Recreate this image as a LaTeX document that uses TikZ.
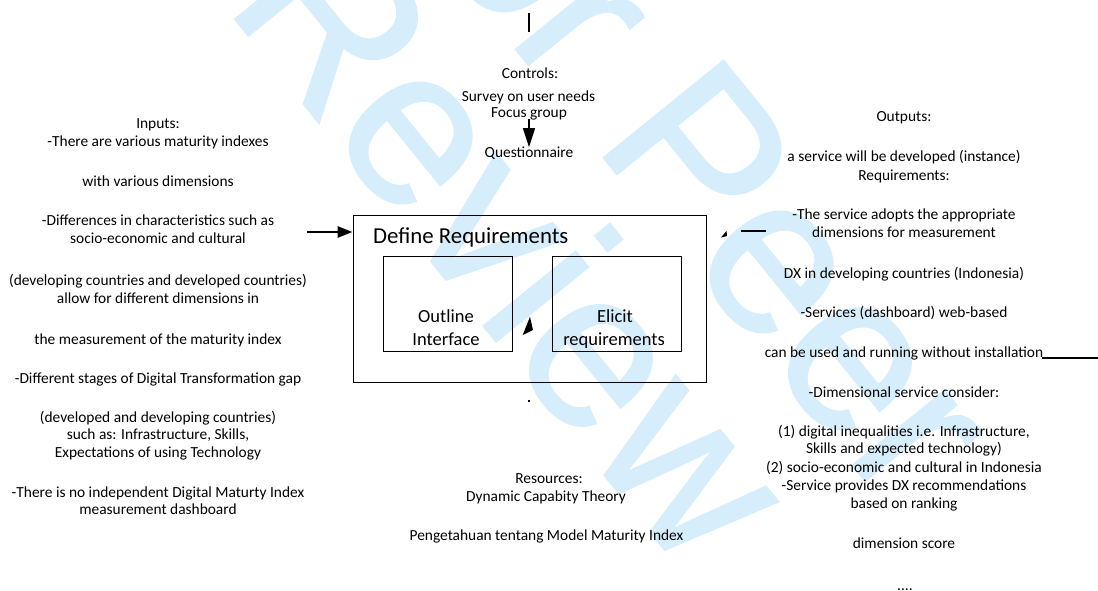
\documentclass[tikz,border=0pt]{standalone}
\usepackage{fontspec}
\setmainfont{Carlito}
\newfontfamily\wmfont[FakeBold=1]{Liberation Sans}
\usetikzlibrary{arrows.meta}
\definecolor{wmblue}{RGB}{214,238,251}

\begin{document}
\begin{tikzpicture}[x=1pt,y=-1pt,
  txt/.style={font=\fontsize{15.4}{18}\selectfont, inner sep=0, anchor=base},
  inner/.style={font=\fontsize{18.5}{23}\selectfont, inner sep=0, anchor=base},
  box/.style={draw, line width=0.9pt, inner sep=0},
  wmark/.style={font=\wmfont\fontsize{224}{224}\selectfont, text=wmblue, inner sep=0, rotate=-51},
  bigarrow/.style={line width=2.6pt, -{Triangle[length=15pt,width=11pt]}},
  ctrlarrow/.style={line width=1.3pt, -{Triangle[length=19pt,width=12pt]}},
  stub/.style={line width=2.8pt},
]
\useasboundingbox (0,0) rectangle (1098,591);

% watermark
\node[wmark] (wm1) at (675,125) {For Peer};
\node[wmark] (wm2) at (517,240) {Review};

% main activity box and its two sub-activities
\node[box, minimum width=353, minimum height=167] (main) at (529.5,298.5) {};
\node[anchor=base west, inner sep=0, font=\fontsize{22.8}{26}\selectfont] (title) at (373,243) {Define Requirements};
\node[box, minimum width=129, minimum height=95] (outline) at (447.5,303.5) {};
\node[box, minimum width=129, minimum height=95] (elicit) at (616.5,303.5) {};
\node[inner] (o1) at (446,322) {Outline};
\node[inner] (o2) at (446,345) {Interface};
\node[inner] (e1) at (615,322) {Elicit};
\node[inner] (e2) at (614,345) {requirements};

% inputs
\foreach \y/\t [count=\i] in {
  129/Inputs:,
  147/-There are various maturity indexes,
  186/with various dimensions,
  225/-Differences in characteristics such as,
  243/socio-economic and cultural,
  285/(developing countries and developed countries),
  303/allow for different dimensions in,
  344/the measurement of the maturity index,
  383/-Different stages of Digital Transformation gap,
  422/(developed and developing countries),
  439/{such as: Infrastructure, Skills,},
  457/Expectations of using Technology,
  497/-There is no independent Digital Maturty Index,
  514/measurement dashboard}
  \node[txt] (in\i) at (158,\y) {\t};

% controls
\node[txt] (c1) at (530,79) {Controls:};
\node[txt] (c2) at (528.5,102) {Survey on user needs};
\node[txt] (c3) at (529,118) {Focus group};
\node[txt] (q) at (529,158) {Questionnaire};

% outputs
\foreach \y/\t [count=\i] in {
  122/Outputs:,
  162/a service will be developed (instance),
  180/Requirements:,
  219/-The service adopts the appropriate,
  237/dimensions for measurement,
  278/DX in developing countries (Indonesia),
  317/-Services (dashboard) web-based,
  357/can be used and running without installation,
  397/-Dimensional service consider:,
  436/{(1) digital inequalities i.e. Infrastructure,},
  453/Skills and expected technology),
  472/(2) socio-economic and cultural in Indonesia,
  490/-Service provides DX recommendations,
  508/based on ranking,
  548/dimension score}
  \node[txt] (out\i) at (904,\y) {\t};
\node[txt] (outdots) at (905,590) {{.}{.}{.}{.}};

% resources
\node[txt] (r1) at (549,483) {Resources:};
\node[txt] (r2) at (546,501) {Dynamic Capabity Theory};
\node[txt] (r3) at (546.5,540) {Pengetahuan tentang Model Maturity Index};

% connectors
\coordinate (inL) at (307,232);
\draw[bigarrow] (inL) -- (inL -| main.west);

\coordinate (ctlTop) at (529,13);
\coordinate (ctlBot) at (529,32);
\draw[line width=1.4pt] (ctlTop) -- (ctlBot);

\coordinate (qA) at (529,119);
\draw[ctrlarrow] (qA) -- (q.north);

\coordinate (outA) at (741,231);
\coordinate (outB) at (766,231);
\draw[stub] (outA) -- (outB);
\fill (721,237.5) -- (726.5,231) -- (727,236) -- cycle;

\coordinate (outC) at (1042,358);
\coordinate (outD) at (1098,358);
\draw[stub] (outC) -- (outD);

\fill (522.7,335) -- (530,316.7) -- (533,330) -- cycle;
\fill (528.4,400) rectangle (529.8,402);
\end{tikzpicture}
\end{document}
